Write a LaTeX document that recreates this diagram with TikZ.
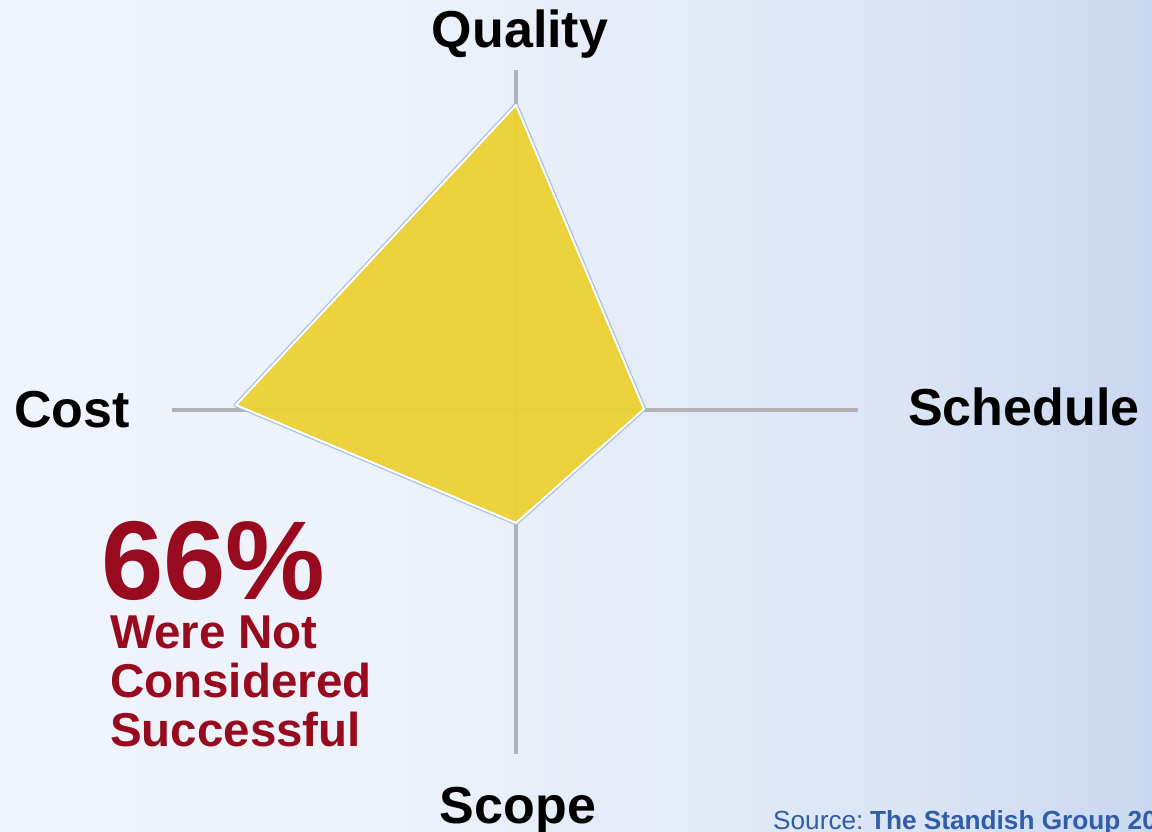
\documentclass[tikz,border=0pt]{standalone}
\usepackage{fontspec}
\setmainfont{Liberation Sans}
\definecolor{bgA}{HTML}{F0F4FC}
\definecolor{bgB}{HTML}{EBF1FA}
\definecolor{bgC}{HTML}{DAE4F4}
\definecolor{bgD}{HTML}{C9D7F0}
\definecolor{axisgray}{HTML}{B0B2B5}
\definecolor{polyfill}{HTML}{EDD232}
\definecolor{polyshadow}{HTML}{A9C0DA}
\definecolor{darkred}{HTML}{980A1E}
\definecolor{srcblue}{HTML}{2F5DA6}
\tikzset{
  axisline/.style={draw=axisgray, line width=3.5pt},
  axislabel/.style={font=\fontsize{52}{60}\selectfont\bfseries, text=black, inner sep=0pt},
  redbig/.style={font=\fontsize{112}{120}\selectfont\bfseries, text=darkred, inner sep=0pt, anchor=base west},
  redsmall/.style={font=\fontsize{47.5}{50}\selectfont\bfseries, text=darkred, inner sep=0pt, anchor=base west},
}
\begin{document}
\begin{tikzpicture}[x=1pt,y=-1pt]
\useasboundingbox (0,0) rectangle (1152,832);
\clip (0,0) rectangle (1152,832);
\shade[left color=bgA, right color=bgB] (0,0) rectangle (451,832);
\shade[left color=bgB, right color=bgC] (450,0) rectangle (921,832);
\shade[left color=bgC, right color=bgD] (920,0) rectangle (1152,832);
% axes
\coordinate (axtop) at (516,70);
\coordinate (axbot) at (516,754);
\coordinate (axl) at (172,410);
\coordinate (axr) at (858,410);
\draw[axisline] (axtop) -- (axbot);
\draw[axisline] (axl) -- (axr);
% polygon
\coordinate (q) at (516,105);
\coordinate (s) at (644,409);
\coordinate (p) at (516,523);
\coordinate (c) at (236,405);
\draw[polyshadow, line width=4.5pt, line join=round] (q) -- (s) -- (p) -- (c) -- cycle;
\fill[polyfill, fill opacity=0.94] (q) -- (s) -- (p) -- (c) -- cycle;
\draw[white, line width=2pt, line join=round] (q) -- (s) -- (p) -- (c) -- cycle;
% labels
\node[axislabel, anchor=base] (lq) at (520,48) {Quality};
\node[axislabel, anchor=base west] (lc) at (14,427) {Cost};
\node[axislabel, anchor=base west] (ls) at (908,425) {Schedule};
\node[axislabel, anchor=base] (lp) at (518,823) {Scope};
% red text
\node[redbig] (pct) at (101,599) {66\%};
\node[redsmall] (r1) at (110,648) {Were Not};
\node[redsmall] (r2) at (110,697) {Considered};
\node[redsmall] (r3) at (110,746) {Successful};
% source
\node[font=\fontsize{26.2}{30}\selectfont, text=srcblue, inner sep=0pt, anchor=base west] (src) at (773,829) {Source:\hspace{0.25em}\textbf{The Standish Group 20}};
\end{tikzpicture}
\end{document}
